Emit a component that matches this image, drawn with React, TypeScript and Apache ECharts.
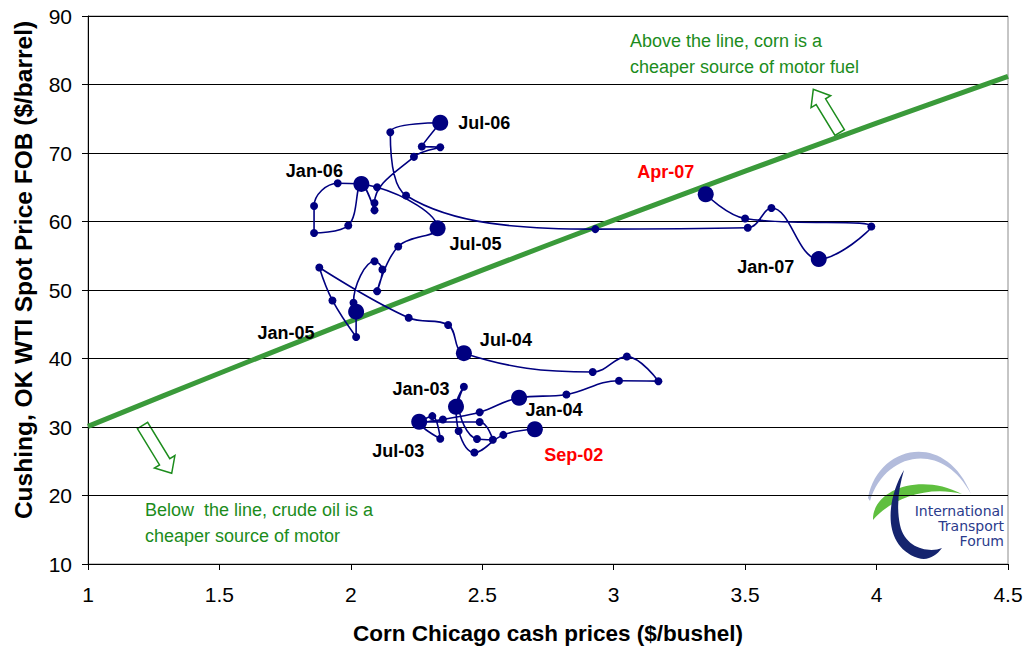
import React, { useEffect, useRef } from "react";
import * as echarts from "echarts";

// ---- Data ----
const months = [
  "Sep-02", "Oct-02", "Nov-02", "Dec-02",
  "Jan-03", "Feb-03", "Mar-03", "Apr-03", "May-03", "Jun-03", "Jul-03", "Aug-03", "Sep-03", "Oct-03", "Nov-03", "Dec-03",
  "Jan-04", "Feb-04", "Mar-04", "Apr-04", "May-04", "Jun-04", "Jul-04", "Aug-04", "Sep-04", "Oct-04", "Nov-04", "Dec-04",
  "Jan-05", "Feb-05", "Mar-05", "Apr-05", "May-05", "Jun-05", "Jul-05", "Aug-05", "Sep-05", "Oct-05", "Nov-05", "Dec-05",
  "Jan-06", "Feb-06", "Mar-06", "Apr-06", "May-06", "Jun-06", "Jul-06", "Aug-06", "Sep-06", "Oct-06", "Nov-06", "Dec-06",
  "Jan-07", "Feb-07", "Mar-07", "Apr-07",
];
const cornPrice = [
  2.70, 2.58, 2.47, 2.41,
  2.40, 2.43, 2.41, 2.48, 2.54, 2.49, 2.26, 2.31, 2.34, 2.27, 2.35, 2.49,
  2.64, 2.82, 3.02, 3.17, 3.05, 2.92, 2.43, 2.37, 2.22, 1.88, 1.93, 2.02,
  2.02, 2.01, 2.09, 2.12, 2.10, 2.18, 2.33, 2.10, 1.95, 1.86, 1.86, 1.99,
  2.04, 2.09, 2.09, 2.24, 2.34, 2.27, 2.34, 2.15, 2.21, 2.93, 3.51, 3.60,
  3.78, 3.98, 3.50, 3.35,
];
const oilPrice = [
  29.67, 28.85, 26.27, 29.42,
  32.94, 35.87, 33.55, 28.25, 28.14, 30.72, 30.76, 31.59, 28.29, 30.33, 31.09, 32.15,
  34.27, 34.74, 36.76, 36.69, 40.28, 38.03, 40.78, 44.90, 45.94, 53.28, 48.47, 43.15,
  46.84, 48.15, 54.19, 52.98, 49.83, 56.35, 59.00, 64.99, 65.59, 62.26, 58.32, 59.41,
  65.49, 61.63, 62.69, 69.44, 70.84, 70.95, 74.41, 73.04, 63.80, 58.89, 59.08, 61.96,
  54.51, 59.28, 60.44, 63.98,
];
const labeledMonths = ["Sep-02", "Jan-03", "Jul-03", "Jan-04", "Jul-04", "Jan-05", "Jul-05", "Jan-06", "Jul-06", "Jan-07", "Apr-07"];
const highlightedMonths = ["Sep-02", "Apr-07"];

// Break-even line (corn price vs crude price)
const lineCorn = [1, 1.5, 2, 2.5, 3, 3.5, 4, 4.5];
const lineOil = [30.1, 37.85, 45.45, 52.9, 60.2, 67.35, 74.35, 81.2];

const xMin = 1, xMax = 4.5, xStep = 0.5;
const yMin = 10, yMax = 90, yStep = 10;

const xTitle = "Corn Chicago cash prices ($/bushel)";
const yTitle = "Cushing, OK WTI Spot Price FOB ($/barrel)";
const aboveText = "Above the line, corn is a\ncheaper source of motor fuel";
const belowText = "Below  the line, crude oil is a\ncheaper source of motor";
const logoLines = ["International", "Transport", "Forum"];

// ---- Styling (label placement relative to point) ----
const labelOffsets: Record<string, [number, number]> = {
  "Sep-02": [39, 26],
  "Jan-03": [-35, -18],
  "Jul-03": [-21, 29],
  "Jan-04": [35, 12],
  "Jul-04": [42, -13],
  "Jan-05": [-70, 21],
  "Jul-05": [38, 16],
  "Jan-06": [-47, -13],
  "Jul-06": [44, 0],
  "Jan-07": [-53, 8],
  "Apr-07": [-40, -22],
};

const FONT = '"Liberation Sans", Arial, sans-serif';
const GREEN = "#1c8c1c";
const NAVY = "#000080";

function blockArrow(tail: number[], tip: number[], shaftHalf: number, headHalf: number, headLen: number) {
  const dx = tip[0] - tail[0], dy = tip[1] - tail[1];
  const len = Math.sqrt(dx * dx + dy * dy);
  const ux = dx / len, uy = dy / len;
  const nx = -uy, ny = ux;
  const bx = tip[0] - ux * headLen, by = tip[1] - uy * headLen;
  return [
    [tail[0] + nx * shaftHalf, tail[1] + ny * shaftHalf],
    [bx + nx * shaftHalf, by + ny * shaftHalf],
    [bx + nx * headHalf, by + ny * headHalf],
    [tip[0], tip[1]],
    [bx - nx * headHalf, by - ny * headHalf],
    [bx - nx * shaftHalf, by - ny * shaftHalf],
    [tail[0] - nx * shaftHalf, tail[1] - ny * shaftHalf],
  ];
}

let shapesRegistered = false;
function registerLogoShapes() {
  if (shapesRegistered) return;
  shapesRegistered = true;
  echarts.graphic.registerShape(
    "itfArcLight",
    echarts.graphic.extendPath("M868,498 C878,445 945,430 971,494 C942,440 885,452 870,501 Z", {})
  );
  echarts.graphic.registerShape(
    "itfArcGreen",
    echarts.graphic.extendPath("M873,520 C872,490 920,472 962,494 C925,485 890,500 873,520 Z", {})
  );
  echarts.graphic.registerShape(
    "itfArcNavy",
    echarts.graphic.extendPath(
      "M904,470 C886,500 882,546 918,558 C928,561 936,556 942,548 C930,553 905,549 900,525 C896,505 899,487 904,470 Z",
      {}
    )
  );
}

export default function App() {
  const ref = useRef<HTMLDivElement>(null);

  useEffect(() => {
    if (!ref.current) return;
    registerLogoShapes();
    const chart = echarts.init(ref.current, null, { renderer: "svg" });

    const pathData = months.map((m, i) => [cornPrice[i], oilPrice[i]]);
    const keyData = labeledMonths.map((m) => {
      const i = months.indexOf(m);
      const red = highlightedMonths.indexOf(m) >= 0;
      return {
        name: m,
        value: [cornPrice[i], oilPrice[i]],
        label: { offset: labelOffsets[m], color: red ? "#ff0000" : "#000000" },
      };
    });
    const lineData = lineCorn.map((x, i) => [x, lineOil[i]]);

    const upArrow = blockArrow([839.7, 132.5], [813.3, 89.3], 5.5, 11.5, 14.5);
    const downArrow = blockArrow([142.5, 425.5], [171.7, 473.3], 6, 12, 13.5);

    chart.setOption({
      animation: false,
      backgroundColor: "#ffffff",
      grid: {
        left: 88,
        right: 22,
        top: 16,
        bottom: 88,
        show: true,
        borderColor: "#8c8c8c",
        borderWidth: 1,
        backgroundColor: "transparent",
      },
      xAxis: {
        type: "value",
        min: xMin,
        max: xMax,
        interval: xStep,
        name: xTitle,
        nameLocation: "middle",
        nameGap: 58,
        nameTextStyle: { fontFamily: FONT, fontWeight: "bold", fontSize: 22.5, color: "#000" },
        axisLine: { show: true, onZero: false, lineStyle: { color: "#000", width: 1 } },
        axisTick: { show: true, length: 6, lineStyle: { color: "#000" } },
        axisLabel: { fontFamily: FONT, fontSize: 21, color: "#000", margin: 20 },
        splitLine: { show: false },
      },
      yAxis: {
        type: "value",
        min: yMin,
        max: yMax,
        interval: yStep,
        axisLine: { show: true, onZero: false, lineStyle: { color: "#000", width: 1 } },
        axisTick: { show: true, length: 6, lineStyle: { color: "#000" } },
        axisLabel: { fontFamily: FONT, fontSize: 21, color: "#000", margin: 16 },
        splitLine: { show: true, lineStyle: { color: "#000", width: 1 } },
      },
      series: [
        {
          type: "line",
          name: "Break-even",
          data: lineData,
          smooth: 0.3,
          symbol: "none",
          z: 1,
          lineStyle: { color: "#3a9a3a", width: 5 },
          silent: true,
        },
        {
          type: "line",
          name: "Monthly prices",
          data: pathData,
          smooth: 0.4,
          symbol: "circle",
          symbolSize: 8,
          showSymbol: true,
          showAllSymbol: true,
          z: 2,
          itemStyle: { color: NAVY, opacity: 1 },
          lineStyle: { color: NAVY, width: 1.6 },
        },
        {
          type: "scatter",
          name: "Key months",
          data: keyData,
          symbol: "circle",
          symbolSize: 16,
          z: 3,
          itemStyle: { color: NAVY, opacity: 1 },
          label: {
            show: true,
            position: "inside",
            formatter: "{b}",
            fontFamily: FONT,
            fontWeight: "bold",
            fontSize: 18,
            opacity: 1,
          },
        },
      ],
      graphic: [
        {
          type: "text",
          x: 23,
          y: 270,
          rotation: Math.PI / 2,
          style: {
            text: yTitle,
            fontFamily: FONT,
            fontWeight: "bold",
            fontSize: 24.5,
            fill: "#000",
            align: "center",
            verticalAlign: "middle",
            textAlign: "center",
            textVerticalAlign: "middle",
          },
        },
        {
          type: "text",
          x: 630,
          y: 28,
          style: {
            text: aboveText,
            fontFamily: FONT,
            fontSize: 18,
            lineHeight: 26,
            fill: GREEN,
            align: "left",
            verticalAlign: "top",
          },
        },
        {
          type: "text",
          x: 145,
          y: 497,
          style: {
            text: belowText,
            fontFamily: FONT,
            fontSize: 18,
            lineHeight: 26,
            fill: GREEN,
            align: "left",
            verticalAlign: "top",
          },
        },
        {
          type: "polygon",
          shape: { points: upArrow },
          style: { fill: "#ffffff", stroke: GREEN, lineWidth: 1.5 },
        },
        {
          type: "polygon",
          shape: { points: downArrow },
          style: { fill: "#ffffff", stroke: GREEN, lineWidth: 1.5 },
        },
        { type: "itfArcLight", x: 0, y: 0, style: { fill: "#b3bcdc" } },
        { type: "itfArcGreen", x: 0, y: 0, style: { fill: "#5fbf3f" } },
        { type: "itfArcNavy", x: 0, y: 0, style: { fill: "#15246e" } },
        ...logoLines.map((t, i) => ({
          type: "text",
          x: 1004,
          y: 511 + i * 15,
          style: {
            text: t,
            fontFamily: '"DejaVu Sans", sans-serif',
            fontSize: 14,
            fill: "#2b3b8c",
            align: "right",
            verticalAlign: "middle",
          },
        })),
      ],
    });

    return () => {
      chart.dispose();
    };
  }, []);

  return (
    <div
      ref={ref}
      style={{ position: "absolute", left: 0, top: 0, width: 1030, height: 652, background: "#fff" }}
    />
  );
}
